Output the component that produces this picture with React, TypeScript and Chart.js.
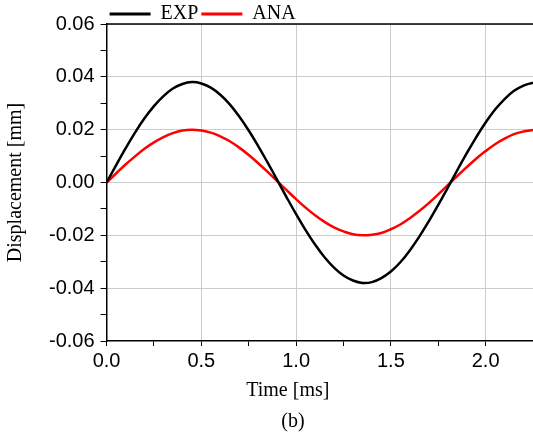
import React, { useEffect, useRef } from "react";
import { Chart, registerables } from "chart.js";

Chart.register(...registerables);

const timeMs = [
  0, 0.05, 0.1, 0.15, 0.2, 0.25, 0.3, 0.35, 0.4, 0.45, 0.5, 0.55, 0.6, 0.65, 0.7, 0.75,
  0.8, 0.85, 0.9, 0.95, 1.0, 1.05, 1.1, 1.15, 1.2, 1.25, 1.3, 1.35, 1.4, 1.45, 1.5,
  1.55, 1.6, 1.65, 1.7, 1.75, 1.8, 1.85, 1.9, 1.95, 2.0, 2.05, 2.1, 2.15, 2.2, 2.25,
];

const expValues = [
  0, 0.0065, 0.0129, 0.0189, 0.0243, 0.0289, 0.0327, 0.0356, 0.0373, 0.038, 0.0375,
  0.0359, 0.0332, 0.0296, 0.025, 0.0197, 0.0138, 0.0075, 0.001, -0.0056, -0.012,
  -0.018, -0.0235, -0.0283, -0.0322, -0.0352, -0.0371, -0.038, -0.0377, -0.0362,
  -0.0337, -0.0302, -0.0257, -0.0205, -0.0147, -0.0085, -0.002, 0.0046, 0.011, 0.0171,
  0.0227, 0.0276, 0.0316, 0.0347, 0.0367, 0.0378,
];

const anaValues = [
  0, 0.0034, 0.0068, 0.0099, 0.0128, 0.0152, 0.0172, 0.0187, 0.0197, 0.02, 0.0197,
  0.0189, 0.0175, 0.0156, 0.0132, 0.0104, 0.0073, 0.004, 0.0005, -0.0029, -0.0063,
  -0.0095, -0.0124, -0.0149, -0.017, -0.0185, -0.0196, -0.02, -0.0198, -0.0191,
  -0.0177, -0.0159, -0.0135, -0.0108, -0.0078, -0.0045, -0.001, 0.0024, 0.0058, 0.009,
  0.0119, 0.0145, 0.0166, 0.0183, 0.0193, 0.0199,
];

const seriesNames = ["EXP", "ANA"];
const xTitle = "Time [ms]";
const yTitle = "Displacement [mm]";
const caption = "(b)";

const SERIF = "'Liberation Serif', 'Times New Roman', serif";
const SANS = "'Liberation Sans', Arial, sans-serif";

const frameAndCaption = {
  id: "frameAndCaption",
  afterDraw(chart: any) {
    const { ctx, chartArea } = chart;
    ctx.save();
    ctx.strokeStyle = "#000";
    ctx.lineWidth = 1.5;
    ctx.beginPath();
    ctx.moveTo(chartArea.left, chartArea.top);
    ctx.lineTo(chartArea.right, chartArea.top);
    ctx.stroke();
    const w = chartArea.right - chartArea.left;
    ctx.fillStyle = "#000";
    ctx.font = `20px ${SERIF}`;
    ctx.textAlign = "center";
    ctx.textBaseline = "alphabetic";
    ctx.fillText(xTitle, chartArea.left + w * 0.425, chartArea.bottom + 55);
    ctx.fillText(caption, chartArea.left + w * 0.437, chartArea.bottom + 85.5);
    ctx.restore();
  },
};

export default function App() {
  const canvasRef = useRef<HTMLCanvasElement | null>(null);

  useEffect(() => {
    if (!canvasRef.current) return;
    const isMult = (v: number, step: number) =>
      Math.abs(v / step - Math.round(v / step)) < 1e-6;
    const chart = new Chart(canvasRef.current, {
      type: "line",
      data: {
        datasets: [
          {
            label: seriesNames[0],
            data: timeMs.map((t, i) => ({ x: t, y: expValues[i] })),
            borderColor: "#000000",
            backgroundColor: "#000000",
            borderWidth: 2.5,
            pointRadius: 0,
            tension: 0.4,
          },
          {
            label: seriesNames[1],
            data: timeMs.map((t, i) => ({ x: t, y: anaValues[i] })),
            borderColor: "#ff0000",
            backgroundColor: "#ff0000",
            borderWidth: 2.5,
            pointRadius: 0,
            tension: 0.4,
          },
        ],
      },
      options: {
        animation: false,
        responsive: false,
        maintainAspectRatio: false,
        layout: { padding: { left: 4, right: 0, top: 1, bottom: 56 } },
        plugins: {
          tooltip: { enabled: false },
          legend: {
            position: "top",
            align: "start",
            fullSize: false,
            maxHeight: 23,
            labels: {
              boxWidth: 41,
              boxHeight: 3,
              padding: 3,
              color: "#000",
              font: { family: SERIF, size: 20 },
              generateLabels: (c: any) =>
                Chart.defaults.plugins.legend.labels
                  .generateLabels(c)
                  .map((l: any) => ({ ...l, lineWidth: 0, fillStyle: l.strokeStyle })),
            },
          },
        },
        scales: {
          x: {
            type: "linear",
            min: 0,
            max: 2.25,
            afterFit: (s: any) => {
              s.paddingLeft = 0;
              s.paddingRight = 0;
            },
            border: { display: true, color: "#000", width: 1.5 },
            grid: {
              color: (ctx: any) =>
                ctx.tick && isMult(ctx.tick.value, 0.5) && ctx.tick.value > 0
                  ? "#cccccc"
                  : "rgba(0,0,0,0)",
              tickColor: "#000",
              tickLength: 5,
              lineWidth: 1,
            },
            ticks: {
              stepSize: 0.25,
              includeBounds: false,
              autoSkip: false,
              maxRotation: 0,
              color: "#000",
              padding: 3,
              font: { family: SANS, size: 20 },
              callback: (v: any) => (isMult(Number(v), 0.5) ? Number(v).toFixed(1) : ""),
            },
          },
          y: {
            type: "linear",
            min: -0.06,
            max: 0.06,
            afterFit: (s: any) => {
              s.paddingTop = 0;
              s.paddingBottom = 0;
            },
            border: { display: true, color: "#000", width: 1.5 },
            title: {
              display: true,
              text: yTitle,
              color: "#000",
              font: { family: SERIF, size: 20 },
              padding: { top: 0, bottom: 15 },
            },
            grid: {
              color: (ctx: any) =>
                ctx.tick && isMult(ctx.tick.value, 0.02) && Math.abs(ctx.tick.value + 0.06) > 1e-6
                  ? "#cccccc"
                  : "rgba(0,0,0,0)",
              tickColor: "#000",
              tickLength: 6,
              lineWidth: 1,
            },
            ticks: {
              stepSize: 0.01,
              autoSkip: false,
              color: "#000",
              padding: 6,
              font: { family: SANS, size: 20 },
              callback: (v: any) => (isMult(Number(v), 0.02) ? Number(v).toFixed(2) : ""),
            },
          },
        },
      },
      plugins: [frameAndCaption],
    } as any);
    return () => chart.destroy();
  }, []);

  return (
    <div style={{ position: "fixed", left: 0, top: 0, width: 533, height: 432, background: "#fff" }}>
      <canvas ref={canvasRef} width={533} height={432} style={{ width: 533, height: 432 }} />
    </div>
  );
}
